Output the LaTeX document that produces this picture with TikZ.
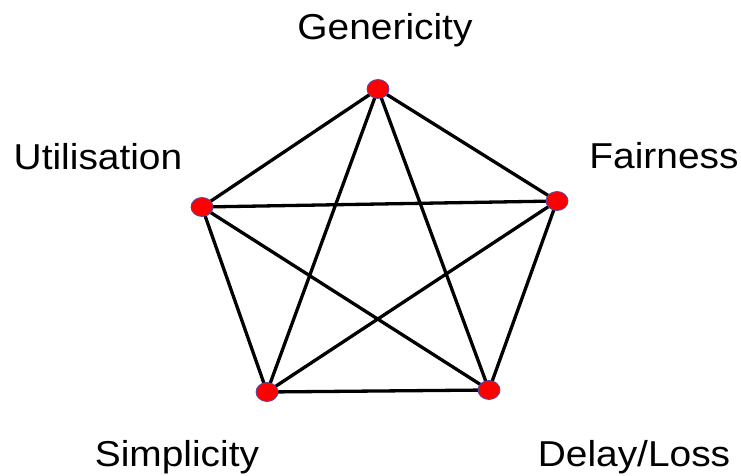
\documentclass[tikz,border=0pt]{standalone}
\usepackage{fontspec}
\setmainfont{Liberation Sans}
\usetikzlibrary{shapes.geometric}
\newcommand{\wtxt}[1]{\scalebox{1.08}[1]{#1}}
\begin{document}
\begin{tikzpicture}[x=1pt,y=-1pt,
  lbl/.style={font=\fontsize{36}{40}\selectfont, inner sep=0pt, anchor=base},
  dot/.style={ellipse, draw=blue!40!gray, line width=0.8pt, fill=red, minimum width=22pt, minimum height=19pt, inner sep=0pt},
  edge/.style={line width=3.3pt, black}]
\useasboundingbox (0,0) rectangle (741,476);
\coordinate (pG) at (378,89);
\coordinate (pU) at (202,207);
\coordinate (pF) at (557,201);
\coordinate (pS) at (267,392);
\coordinate (pD) at (489,390);
\draw[edge] (pG) -- (pU) (pG) -- (pF) (pG) -- (pS) (pG) -- (pD)
  (pU) -- (pF) (pU) -- (pS) (pU) -- (pD)
  (pF) -- (pS) (pF) -- (pD) (pS) -- (pD);
\foreach \n in {G,U,F,S,D} \node[dot] (d\n) at (p\n) {};
\node[lbl] (tG) at (385,40) {\wtxt{Genericity}};
\node[lbl] (tU) at (98,169) {\wtxt{Utilisation}};
\node[lbl] (tF) at (664,168) {\wtxt{Fairness}};
\node[lbl] (tS) at (177,466) {\wtxt{Simplicity}};
\node[lbl] (tD) at (634,466) {\wtxt{Delay/Loss}};
\end{tikzpicture}
\end{document}
